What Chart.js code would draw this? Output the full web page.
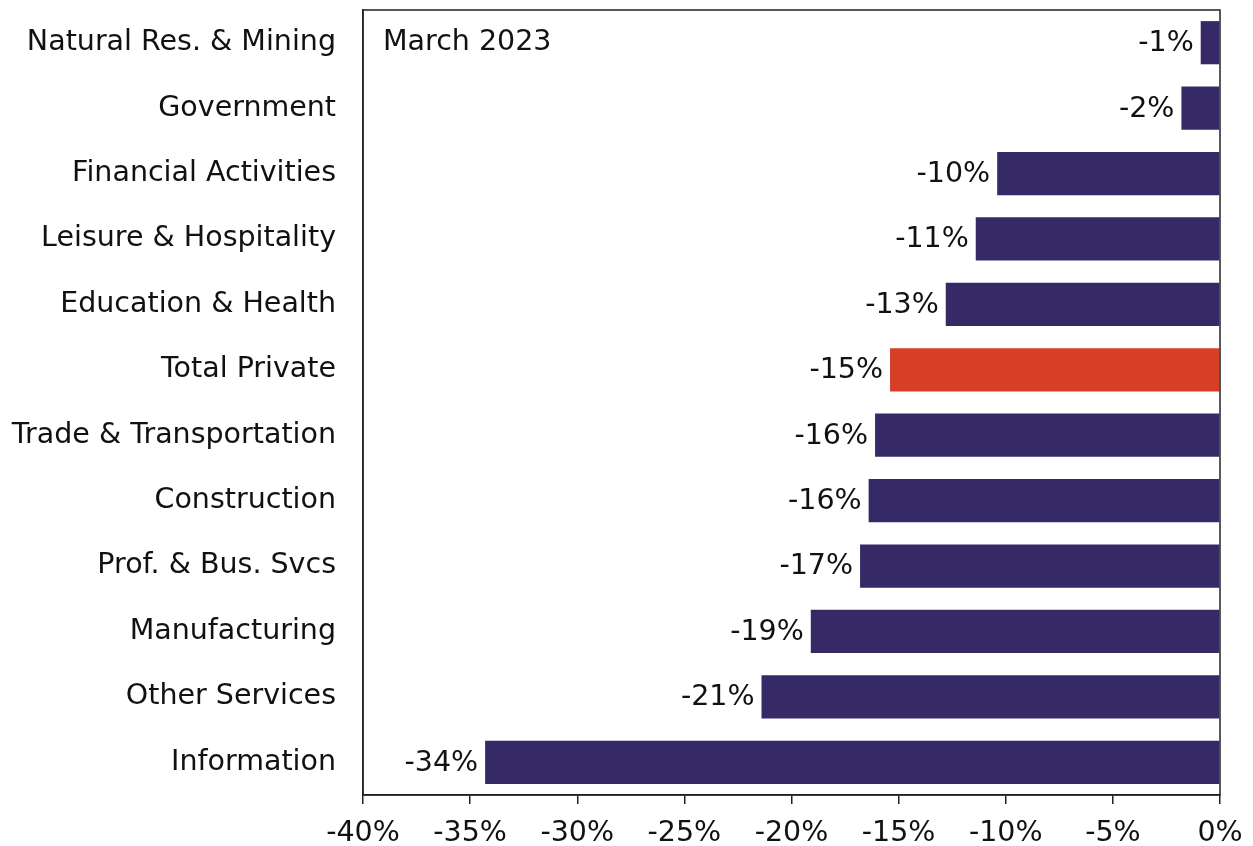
<!DOCTYPE html>
<html lang="en">
<head>
    <meta charset="UTF-8">
    <title>Employment Change by Sector</title>
    <style>
        body { margin: 0; background: #fff; font-family: 'DejaVu Sans', Verdana, sans-serif; }
        #wrap { width: 1253px; height: 846px; position: relative; }
    </style>
    <script src="https://cdn.jsdelivr.net/npm/chart.js@4.4.0/dist/chart.umd.min.js"></script>
</head>
<body>

<div id="wrap"><canvas id="sectorChart"></canvas></div>

<script>
    const sectors = [
        'Natural Res. & Mining', 'Government', 'Financial Activities', 'Leisure & Hospitality',
        'Education & Health', 'Total Private', 'Trade & Transportation', 'Construction',
        'Prof. & Bus. Svcs', 'Manufacturing', 'Other Services', 'Information'
    ];
    const changePct = [-0.9, -1.8, -10.4, -11.4, -12.8, -15.4, -16.1, -16.4, -16.8, -19.1, -21.4, -34.3];
    const highlight = 'Total Private';
    const periodLabel = 'March 2023';
    const xTicks = [-40, -35, -30, -25, -20, -15, -10, -5, 0];

    const navy = '#352a65';
    const red = '#d63e26';
    const font = "'DejaVu Sans', Verdana, sans-serif";
    const fontSize = 28.5;

    // box round the plot + period note
    const frame = {
        id: 'frame',
        afterDraw(chart) {
            const { ctx, chartArea: a } = chart;
            ctx.save();
            ctx.strokeStyle = '#222';
            ctx.lineWidth = 1.5;
            ctx.strokeRect(a.left, a.top, a.right - a.left, a.bottom - a.top);
            ctx.fillStyle = '#111';
            ctx.font = fontSize + 'px ' + font;
            ctx.textAlign = 'left';
            ctx.textBaseline = 'middle';
            ctx.fillText(periodLabel, a.left + 20, a.top + 33);
            ctx.restore();
        }
    };

    // value labels left of each bar end
    const barLabels = {
        id: 'barLabels',
        afterDatasetsDraw(chart) {
            const { ctx } = chart;
            const meta = chart.getDatasetMeta(0);
            ctx.save();
            ctx.fillStyle = '#111';
            ctx.font = fontSize + 'px ' + font;
            ctx.textAlign = 'right';
            ctx.textBaseline = 'middle';
            meta.data.forEach((bar, i) => {
                ctx.fillText(Math.round(changePct[i]) + '%', bar.x - 7, bar.y + 1);
            });
            ctx.restore();
        }
    };

    new Chart(document.getElementById('sectorChart'), {
        type: 'bar',
        data: {
            labels: sectors,
            datasets: [{
                data: changePct,
                backgroundColor: sectors.map(s => s === highlight ? red : navy),
                borderWidth: 0,
                barPercentage: 0.66,
                categoryPercentage: 1
            }]
        },
        options: {
            indexAxis: 'y',
            responsive: true,
            maintainAspectRatio: false,
            animation: false,
            layout: { padding: { top: 10, right: 33, left: 0, bottom: 0 } },
            plugins: { legend: { display: false }, tooltip: { enabled: false } },
            scales: {
                x: {
                    min: -40,
                    max: 0,
                    afterBuildTicks(scale) { scale.ticks = xTicks.map(v => ({ value: v })); },
                    afterFit(scale) {
                        scale.height = 51;
                        scale.paddingLeft = 0;
                        scale.paddingRight = 0;
                    },
                    grid: { drawOnChartArea: false, drawTicks: true, tickLength: 9, color: '#222', lineWidth: 1.5 },
                    border: { display: true, color: '#222', width: 1.5 },
                    ticks: {
                        color: '#111',
                        font: { family: font, size: fontSize },
                        padding: 12,
                        maxRotation: 0,
                        callback: v => v + '%'
                    }
                },
                y: {
                    afterFit(scale) {
                        scale.width = 363;
                        scale.paddingTop = 0;
                        scale.paddingBottom = 0;
                    },
                    grid: { display: false, drawTicks: false },
                    border: { display: true, color: '#222', width: 1.5 },
                    ticks: {
                        color: '#111',
                        font: { family: font, size: fontSize },
                        padding: 27
                    }
                }
            }
        },
        plugins: [frame, barLabels]
    });
</script>

</body>
</html>
